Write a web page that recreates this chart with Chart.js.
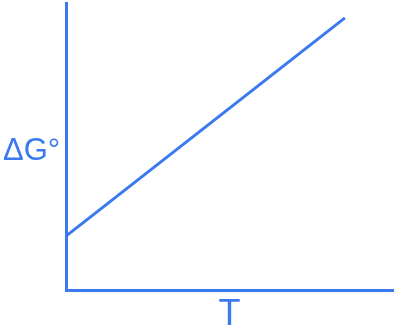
<!DOCTYPE html>
<html>
<head>
<meta charset="utf-8">
<script src="https://cdn.jsdelivr.net/npm/chart.js@4"></script>
<style>
  html, body { margin: 0; padding: 0; background: #fff; }
  #wrap { width: 400px; height: 330px; }
</style>
</head>
<body>
<div id="wrap"><canvas id="chartLine" width="400" height="330"></canvas></div>
<script>
// temperature (x) and free energy (y) in arbitrary units, 0..10 on both axes
const tValues = [0, 8.53];
const gValues = [1.88, 9.48];
const yLabel = 'ΔG°';
const xLabel = 'T';

const blue = '#3a79ee';

// axis labels drawn horizontally, like the original sketch
const axisLabels = {
  id: 'axisLabels',
  afterDraw(chart) {
    const ctx = chart.ctx;
    ctx.save();
    ctx.fillStyle = blue;
    ctx.textBaseline = 'alphabetic';
    ctx.font = '31px "Liberation Sans", Arial, sans-serif';
    ctx.textAlign = 'left';
    ctx.fillText(yLabel, 3, 160);
    ctx.font = '36px "Liberation Sans Narrow", "Liberation Sans", sans-serif';
    ctx.textAlign = 'center';
    const area = chart.chartArea;
    ctx.fillText(xLabel, (area.left + area.right) / 2, 325);
    ctx.restore();
  }
};

const dataLine = {
  datasets: [
    {
      data: tValues.map((t, i) => ({ x: t, y: gValues[i] })),
      borderColor: blue,
      borderWidth: 3,
      pointRadius: 0,
      fill: false,
      tension: 0
    }
  ]
};

const configLine = {
  type: 'line',
  data: dataLine,
  options: {
    responsive: false,
    animation: false,
    layout: { padding: { top: 3, right: 7, left: 0, bottom: 0 } },
    plugins: { legend: { display: false }, tooltip: { enabled: false } },
    scales: {
      x: {
        type: 'linear',
        min: 0,
        max: 10,
        ticks: { display: false },
        grid: { display: false },
        border: { display: true, color: blue, width: 3 },
        afterFit: s => { s.height = 40; }
      },
      y: {
        type: 'linear',
        min: 0,
        max: 10,
        ticks: { display: false },
        grid: { display: false },
        border: { display: true, color: blue, width: 3 },
        afterFit: s => { s.width = 66; }
      }
    }
  },
  plugins: [axisLabels]
};

new Chart(document.getElementById('chartLine'), configLine);
</script>
</body>
</html>
